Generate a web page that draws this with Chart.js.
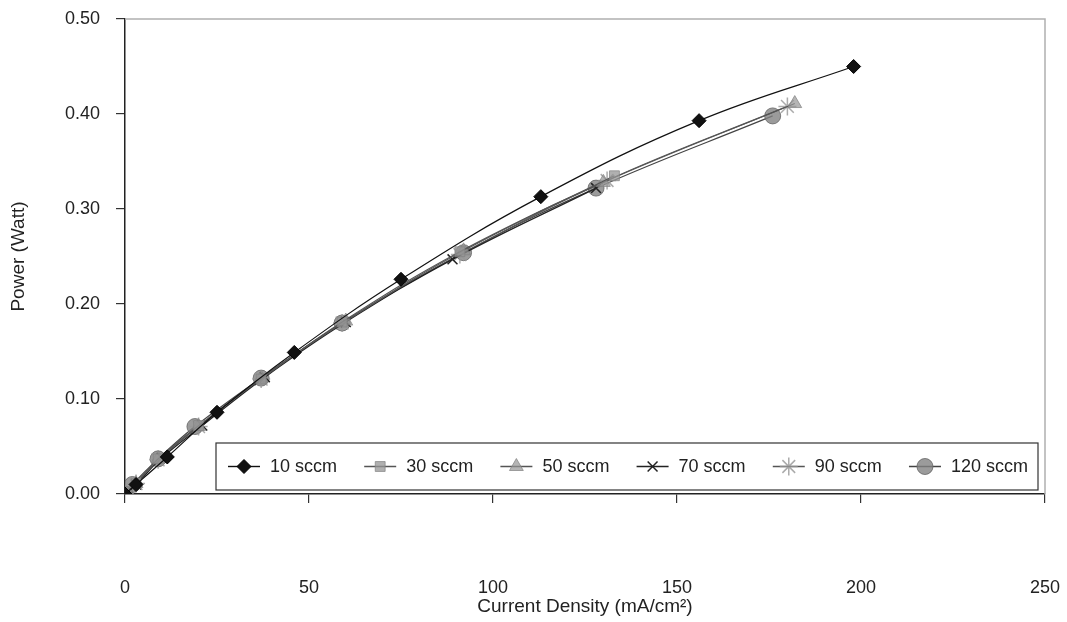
<!DOCTYPE html>
<html>
<head>
<meta charset="utf-8">
<title>Power vs Current Density</title>
<script src="https://cdn.jsdelivr.net/npm/chart.js@4"></script>
<style>
  html, body { margin: 0; padding: 0; background: #fff; }
  #wrap { width: 1067px; height: 622px; position: relative; }
</style>
</head>
<body>
<div id="wrap"><canvas id="powerChart" width="1067" height="622"></canvas></div>
<script>
// flow rates and measured points (current density mA/cm2, power W)
const seriesNames = ["10 sccm", "30 sccm", "50 sccm", "70 sccm", "90 sccm", "120 sccm"];

const current10 = [0, 3, 11.5, 25, 46, 75, 113, 156, 198];
const power10 = [0, 0.010, 0.039, 0.086, 0.149, 0.226, 0.313, 0.393, 0.450];

const current30 = [0, 3, 9, 20, 37, 59, 91, 133];
const power30 = [0, 0.011, 0.037, 0.072, 0.121, 0.181, 0.255, 0.335];

const current50 = [0, 3, 9, 20, 37, 60, 92, 130, 182];
const power50 = [0, 0.011, 0.037, 0.071, 0.122, 0.182, 0.256, 0.328, 0.411];

const current70 = [0, 3, 10, 21, 38, 60, 89, 128];
const power70 = [0, 0.010, 0.038, 0.072, 0.123, 0.181, 0.247, 0.322];

const current90 = [0, 3, 9, 20, 37, 59, 91, 131, 180];
const power90 = [0, 0.011, 0.036, 0.071, 0.121, 0.180, 0.252, 0.330, 0.408];

const current120 = [0, 2, 9, 19, 37, 59, 92, 128, 176];
const power120 = [0, 0.010, 0.037, 0.071, 0.122, 0.180, 0.254, 0.322, 0.398];

const xTicks = [0, 50, 100, 150, 200, 250];
const yTicks = [0, 0.1, 0.2, 0.3, 0.4, 0.5];

const FONT = "'Liberation Sans', Arial, sans-serif";

function points(xs, ys) {
  return xs.map((x, i) => ({ x: x, y: ys[i] }));
}

function series(label, xs, ys, style) {
  return Object.assign({
    label: label,
    data: points(xs, ys),
    showLine: true,
    tension: 0.4,
    borderWidth: 1.2,
    pointRadius: 7,
    pointBorderWidth: 1
  }, style);
}

const datasets = [
  series(seriesNames[0], current10, power10, {
    borderColor: "#111", pointStyle: "rectRot", pointBackgroundColor: "#111", pointBorderColor: "#000"
  }),
  series(seriesNames[1], current30, power30, {
    borderColor: "#555", pointStyle: "rect", pointRadius: 7,
    pointBackgroundColor: "rgba(150,150,150,0.75)", pointBorderColor: "rgba(130,130,130,0.7)"
  }),
  series(seriesNames[2], current50, power50, {
    borderColor: "#555", pointStyle: "triangle", pointRadius: 8,
    pointBackgroundColor: "rgba(150,150,150,0.7)", pointBorderColor: "rgba(130,130,130,0.7)"
  }),
  series(seriesNames[3], current70, power70, {
    borderColor: "#222", pointStyle: "crossRot", pointRadius: 7, pointBorderWidth: 1.5,
    pointBackgroundColor: "#222", pointBorderColor: "#222"
  }),
  series(seriesNames[4], current90, power90, {
    borderColor: "#555", pointStyle: "star", pointRadius: 9, pointBorderWidth: 1.5,
    pointBackgroundColor: "rgba(160,160,160,0.7)", pointBorderColor: "rgba(150,150,150,0.8)"
  }),
  series(seriesNames[5], current120, power120, {
    borderColor: "#444", pointStyle: "circle", pointRadius: 8,
    pointBackgroundColor: "rgba(130,130,130,0.8)", pointBorderColor: "rgba(100,100,100,0.8)"
  })
];

// light frame on the top and right of the plot area
const plotFrame = {
  id: "plotFrame",
  beforeDatasetsDraw(chart) {
    const { ctx, chartArea: a } = chart;
    ctx.save();
    ctx.strokeStyle = "#b0b0b0";
    ctx.lineWidth = 1.5;
    ctx.beginPath();
    ctx.moveTo(a.left, a.top);
    ctx.lineTo(a.right, a.top);
    ctx.lineTo(a.right, a.bottom);
    ctx.stroke();
    ctx.restore();
  }
};

// boxed legend sitting inside the plot, above the x axis
const insideLegend = {
  id: "insideLegend",
  afterDatasetsDraw(chart) {
    const ctx = chart.ctx;
    const box = { left: 216, top: 443, right: 1038, bottom: 490 };
    const midY = (box.top + box.bottom) / 2;
    ctx.save();
    ctx.fillStyle = "#fff";
    ctx.fillRect(box.left, box.top, box.right - box.left, box.bottom - box.top);
    ctx.strokeStyle = "#333";
    ctx.lineWidth = 1.2;
    ctx.strokeRect(box.left, box.top, box.right - box.left, box.bottom - box.top);

    ctx.font = "18px " + FONT;
    ctx.textBaseline = "middle";
    const items = chart.data.datasets;
    const lineLen = 32, textGap = 10;
    const widths = items.map(ds => lineLen + textGap + ctx.measureText(ds.label).width);
    const used = widths.reduce((s, w) => s + w, 0);
    const gap = (box.right - box.left - 22 - used) / (items.length - 1);
    let x = box.left + 12;
    items.forEach((ds, i) => {
      ctx.strokeStyle = ds.borderColor;
      ctx.lineWidth = 1.4;
      ctx.beginPath();
      ctx.moveTo(x, midY);
      ctx.lineTo(x + lineLen, midY);
      ctx.stroke();
      ctx.fillStyle = ds.pointBackgroundColor;
      ctx.strokeStyle = ds.pointBorderColor;
      ctx.lineWidth = ds.pointBorderWidth;
      Chart.helpers.drawPoint(ctx, {
        pointStyle: ds.pointStyle, radius: ds.pointRadius, borderWidth: ds.pointBorderWidth, rotation: 0
      }, x + lineLen / 2, midY);
      ctx.fillStyle = "#222";
      ctx.fillText(ds.label, x + lineLen + textGap, midY + 1);
      x += widths[i] + gap;
    });
    ctx.restore();
  }
};

new Chart(document.getElementById("powerChart"), {
  type: "scatter",
  data: { datasets: datasets },
  plugins: [plotFrame, insideLegend],
  options: {
    responsive: false,
    animation: false,
    layout: { padding: { top: 19, right: 22, left: 0, bottom: 0 } },
    plugins: { legend: { display: false }, tooltip: { enabled: false } },
    scales: {
      x: {
        type: "linear",
        min: 0, max: 250,
        afterBuildTicks: s => { s.ticks = xTicks.map(v => ({ value: v })); },
        afterFit: s => { s.height = 128; s.paddingLeft = 0; s.paddingRight = 0; },
        grid: { drawOnChartArea: false, drawTicks: true, tickLength: 9, color: "#333", lineWidth: 1.2 },
        border: { color: "#222", width: 1.5 },
        ticks: { padding: 74, color: "#222", font: { family: FONT, size: 18 } },
        title: {
          display: true, text: "Current Density (mA/cm²)", color: "#222",
          font: { family: FONT, size: 19 }, padding: { top: 0, bottom: 4 }
        }
      },
      y: {
        type: "linear",
        min: 0, max: 0.5,
        afterBuildTicks: s => { s.ticks = yTicks.map(v => ({ value: v })); },
        afterFit: s => { s.width = 125; s.paddingTop = 0; s.paddingBottom = 0; },
        grid: { drawOnChartArea: false, drawTicks: true, tickLength: 9, color: "#333", lineWidth: 1.2 },
        border: { color: "#222", width: 1.5 },
        ticks: { padding: 16, color: "#222", font: { family: FONT, size: 18 }, callback: v => v.toFixed(2) },
        title: {
          display: true, text: "Power (Watt)", color: "#222",
          font: { family: FONT, size: 19 }, padding: { top: 7, bottom: 0 }
        }
      }
    }
  }
});
</script>
</body>
</html>
